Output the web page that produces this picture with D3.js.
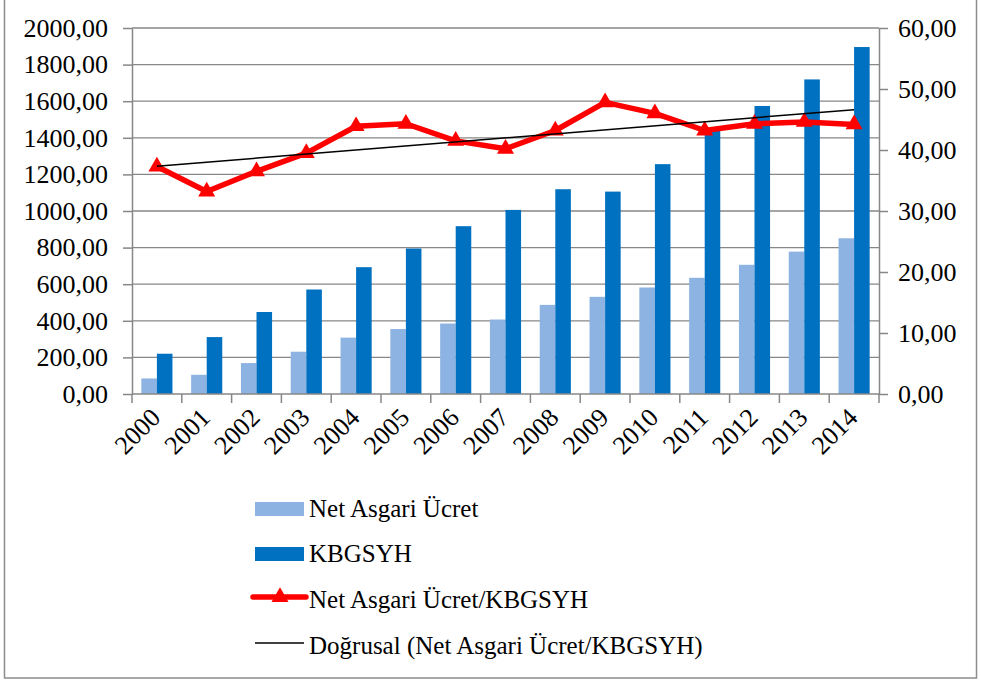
<!DOCTYPE html>
<html>
<head>
<meta charset="utf-8">
<script src="https://cdn.jsdelivr.net/npm/d3@7"></script>
<style>
  body { margin: 0; background: #fff; }
</style>
</head>
<body>
<svg id="fig" width="981" height="681"></svg>
<script>
'use strict';

var years = ['2000', '2001', '2002', '2003', '2004', '2005', '2006', '2007',
    '2008', '2009', '2010', '2011', '2012', '2013', '2014'];

// Net Asgari Ücret (left axis)
var netAsgari = [85, 105, 169, 231, 308, 355, 385, 407, 487, 531, 582, 635, 706, 778, 851];

// KBGSYH (left axis)
var kbgsyh = [220, 311, 448, 571, 693, 795, 917, 1006, 1119, 1106, 1256, 1443, 1574, 1719, 1896];

// Net Asgari Ücret/KBGSYH (right axis)
var ratio = [37.3, 33.2, 36.5, 39.5, 43.9, 44.3, 41.5, 40.2, 43.2, 47.8, 46.0, 43.2, 44.3, 44.6, 44.2];

var leftTicks = [0, 200, 400, 600, 800, 1000, 1200, 1400, 1600, 1800, 2000];
var rightTicks = [0, 10, 20, 30, 40, 50, 60];

var legendLabels = ['Net Asgari Ücret', 'KBGSYH', 'Net Asgari Ücret/KBGSYH',
    'Doğrusal (Net Asgari Ücret/KBGSYH)'];

var colors = {
  light: '#8db3e2',
  dark: '#0070c0',
  red: '#ff0000',
  grid: '#878787'
};

var FONT = '"Liberation Serif"';

// serif text helper
function serif(sel, size) {
  return sel.attr('font-family', 'Liberation Serif')
      .attr('font-size', size)
      .style('font-family', FONT, 'important')
      .style('font-size', size + 'px', 'important');
}

var svg = d3.select('#fig'),
    plot = {left: 132, right: 879, top: 28, bottom: 394},
    fmt = function (v) { return d3.format('.2f')(v).replace('.', ','); };

// outer frame
svg.append('rect')
    .attr('x', 4.5).attr('y', -1)
    .attr('width', 972).attr('height', 679)
    .attr('fill', 'none')
    .attr('stroke', '#8c8c8c')
    .attr('stroke-width', 1.5);

var x0 = d3.scaleBand().domain(years).range([plot.left, plot.right]).padding(0),
    x1 = d3.scaleBand().domain(['net', 'kb']).range([0, x0.bandwidth()])
        .paddingInner(0).paddingOuter(0.6),
    yL = d3.scaleLinear().domain([0, 2000]).range([plot.bottom, plot.top]),
    yR = d3.scaleLinear().domain([0, 60]).range([plot.bottom, plot.top]);

// gridlines
svg.append('g')
    .selectAll('line')
    .data(leftTicks.slice(1))
    .enter().append('line')
    .attr('x1', plot.left).attr('x2', plot.right)
    .attr('y1', function (d) { return yL(d); })
    .attr('y2', function (d) { return yL(d); })
    .attr('stroke', colors.grid)
    .attr('stroke-width', 1.3);

// bars
var groups = svg.append('g')
    .selectAll('g')
    .data(years)
    .enter().append('g')
    .attr('transform', function (d) { return 'translate(' + x0(d) + ',0)'; });

groups.append('rect')
    .attr('x', x1('net'))
    .attr('width', x1.bandwidth())
    .attr('y', function (d, i) { return yL(netAsgari[i]); })
    .attr('height', function (d, i) { return yL(0) - yL(netAsgari[i]); })
    .attr('fill', colors.light);

groups.append('rect')
    .attr('x', x1('kb'))
    .attr('width', x1.bandwidth())
    .attr('y', function (d, i) { return yL(kbgsyh[i]); })
    .attr('height', function (d, i) { return yL(0) - yL(kbgsyh[i]); })
    .attr('fill', colors.dark);

// axes
var axisLeft = d3.axisLeft(yL).tickValues(leftTicks).tickFormat(fmt)
        .tickSizeInner(9).tickSizeOuter(0).tickPadding(15),
    axisRight = d3.axisRight(yR).tickValues(rightTicks).tickFormat(fmt)
        .tickSizeInner(9).tickSizeOuter(0).tickPadding(10);

function styleAxis(g) {
  g.attr('font-family', 'Liberation Serif').attr('font-size', 26);
  g.select('.domain').attr('stroke', colors.grid).attr('stroke-width', 1.5);
  g.selectAll('.tick line').attr('stroke', colors.grid).attr('stroke-width', 1.5);
  g.selectAll('text').call(serif, 26).attr('fill', '#000');
}

svg.append('g')
    .attr('transform', 'translate(' + plot.left + ',0)')
    .call(axisLeft).call(styleAxis);

svg.append('g')
    .attr('transform', 'translate(' + plot.right + ',0)')
    .call(axisRight).call(styleAxis);

var bottom = svg.append('g')
    .attr('transform', 'translate(0,' + plot.bottom + ')');

bottom.append('line')
    .attr('x1', plot.left).attr('x2', plot.right)
    .attr('stroke', colors.grid)
    .attr('stroke-width', 1.5);

// category boundary ticks
bottom.selectAll('.cat-tick')
    .data(years.concat(['end']))
    .enter().append('line')
    .attr('class', 'cat-tick')
    .attr('x1', function (d, i) { return plot.left + i * x0.step(); })
    .attr('x2', function (d, i) { return plot.left + i * x0.step(); })
    .attr('y1', 0).attr('y2', 9)
    .attr('stroke', colors.grid)
    .attr('stroke-width', 1.5);

bottom.selectAll('.year')
    .data(years)
    .enter().append('text')
    .attr('class', 'year')
    .call(serif, 26)
    .attr('text-anchor', 'end')
    .attr('transform', function (d) {
      return 'translate(' + (x0(d) + x0.bandwidth() / 2 + 5) + ',25) rotate(-45)';
    })
    .text(function (d) { return d; });

// linear trend (least squares over the ratio series)
var n = ratio.length,
    mx = d3.mean(ratio, function (d, i) { return i; }),
    my = d3.mean(ratio),
    slope = d3.sum(ratio, function (d, i) { return (i - mx) * (d - my); }) /
        d3.sum(ratio, function (d, i) { return (i - mx) * (i - mx); }),
    trend = ratio.map(function (d, i) { return my + slope * (i - mx); });

var cx = function (d, i) { return x0(years[i]) + x0.bandwidth() / 2; };

var redLine = d3.line()
    .x(cx)
    .y(function (d) { return yR(d); });

svg.append('path')
    .datum(ratio)
    .attr('d', redLine)
    .attr('fill', 'none')
    .attr('stroke', colors.red)
    .attr('stroke-width', 5.5)
    .attr('stroke-linejoin', 'round');

var triangle = d3.symbol().type(d3.symbolTriangle).size(125);

svg.append('g')
    .selectAll('path')
    .data(ratio)
    .enter().append('path')
    .attr('d', triangle)
    .attr('transform', function (d, i) {
      return 'translate(' + cx(d, i) + ',' + yR(d) + ')';
    })
    .attr('fill', colors.red);

svg.append('path')
    .datum([trend[0], trend[n - 1]])
    .attr('d', d3.line()
        .x(function (d, i) { return cx(d, i === 0 ? 0 : n - 1); })
        .y(function (d) { return yR(d); }))
    .attr('stroke', '#000')
    .attr('stroke-width', 1.5);

// legend
var legend = svg.append('g').attr('transform', 'translate(255,0)'),
    rowY = [509, 554, 600, 646];

legend.append('rect')
    .attr('x', 0).attr('y', rowY[0] - 7).attr('width', 49).attr('height', 14)
    .attr('fill', colors.light);
legend.append('rect')
    .attr('x', 0).attr('y', rowY[1] - 7).attr('width', 49).attr('height', 14)
    .attr('fill', colors.dark);
legend.append('line')
    .attr('x1', -2).attr('x2', 51).attr('y1', rowY[2] - 3).attr('y2', rowY[2] - 3)
    .attr('stroke', colors.red).attr('stroke-width', 5.5)
    .attr('stroke-linecap', 'round');
legend.append('path')
    .attr('d', triangle)
    .attr('transform', 'translate(25,' + (rowY[2] - 3) + ')')
    .attr('fill', colors.red);
legend.append('line')
    .attr('x1', 0).attr('x2', 49).attr('y1', rowY[3] - 3).attr('y2', rowY[3] - 3)
    .attr('stroke', '#000').attr('stroke-width', 1.5);

legend.selectAll('text')
    .data(legendLabels)
    .enter().append('text')
    .attr('x', 54)
    .attr('y', function (d, i) { return rowY[i] + 8; })
    .call(serif, 25)
    .text(function (d) { return d; });
</script>
</body>
</html>
